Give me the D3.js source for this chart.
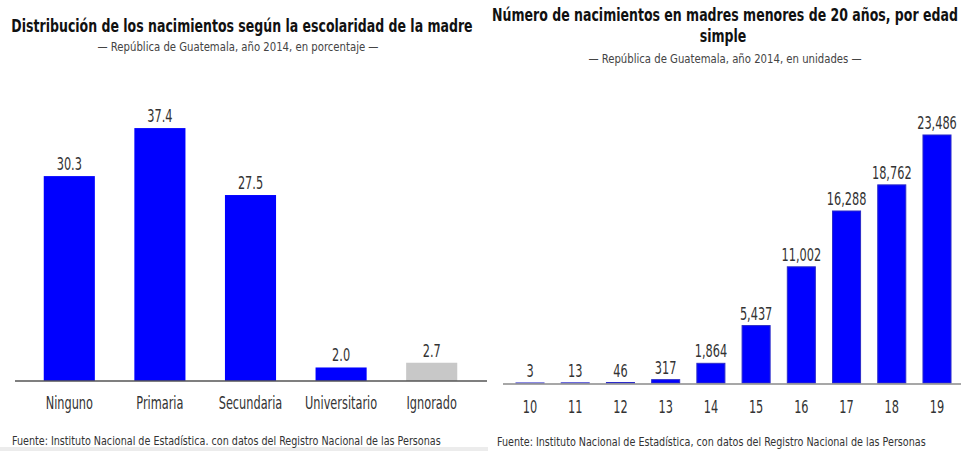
<!DOCTYPE html>
<html lang="es">
<head>
    <meta charset="UTF-8">
    <title>Nacimientos Guatemala 2014</title>
    <script src="https://d3js.org/d3.v7.min.js"></script>
    <style>
        body {
            margin: 0;
            background: #fff;
        }
        svg text {
            font-family: 'Liberation Sans Narrow', 'DejaVu Sans Condensed', sans-serif;
        }
        .title {
            font-size: 17px;
            font-weight: bold;
            fill: #111;
            text-anchor: middle;
        }
        .subtitle {
            font-size: 12.5px;
            fill: #444;
            text-anchor: middle;
        }
        .value, .tick-label {
            font-size: 17.5px;
            fill: #333;
            text-anchor: middle;
        }
        .source {
            font-size: 12px;
            fill: #333;
        }
    </style>
</head>
<body>
    <svg width="961" height="451"></svg>
    <script>
        // left chart: escolaridad de la madre (%)
        const schooling = ["Ninguno", "Primaria", "Secundaria", "Universitario", "Ignorado"];
        const schoolingPct = [30.3, 37.4, 27.5, 2.0, 2.7];

        // right chart: madres menores de 20 años
        const ages = ["10", "11", "12", "13", "14", "15", "16", "17", "18", "19"];
        const ageBirths = [3, 13, 46, 317, 1864, 5437, 11002, 16288, 18762, 23486];

        const svg = d3.select("svg");
        const blue = "#0000ff";
        const grey = "#c8c8c8";

        // squeeze text horizontally to mimic the condensed face of the original
        const squeeze = {title: 0.82, subtitle: 0.9, value: 0.72, source: 0.89};
        function placeText(sel, x, y, k) {
            sel.attr("transform", `translate(${x},${y}) scale(${k},1)`);
        }

        // bottom strip under left panel
        svg.append("rect")
            .attr("x", 0).attr("y", 447)
            .attr("width", 488).attr("height", 4)
            .attr("fill", "#ececec");

        // ---------- left panel ----------
        const xL = d3.scaleBand()
            .domain(schooling)
            .range([24, 477])
            .paddingInner(0.436)
            .paddingOuter(0.218);

        const yL = d3.scaleLinear()
            .domain([0, 40])
            .range([381, 110.5]);

        const left = svg.append("g");

        left.append("text").attr("class", "title")
            .text("Distribución de los nacimientos según la escolaridad de la madre")
            .call(placeText, 242, 32, squeeze.title);
        left.append("text").attr("class", "subtitle")
            .text("— República de Guatemala, año 2014, en porcentaje —")
            .call(placeText, 238, 51, squeeze.subtitle);

        left.selectAll(".bar")
            .data(schooling)
            .enter().append("rect")
            .attr("class", "bar")
            .attr("x", d => xL(d))
            .attr("width", xL.bandwidth())
            .attr("y", (d, i) => yL(schoolingPct[i]))
            .attr("height", (d, i) => yL(0) - yL(schoolingPct[i]))
            .attr("fill", d => d === "Ignorado" ? grey : blue);

        left.selectAll(".value")
            .data(schooling)
            .enter().append("text")
            .attr("class", "value")
            .text((d, i) => d3.format(".1f")(schoolingPct[i]))
            .each(function(d, i) {
                d3.select(this).call(placeText, xL(d) + xL.bandwidth() / 2, yL(schoolingPct[i]) - 6, squeeze.value);
            });

        left.append("line")
            .attr("x1", 15).attr("x2", 487)
            .attr("y1", yL(0)).attr("y2", yL(0))
            .attr("stroke", "#555").attr("stroke-width", 1.5);

        left.selectAll(".tick-label")
            .data(schooling)
            .enter().append("text")
            .attr("class", "tick-label")
            .text(d => d)
            .each(function(d) {
                d3.select(this).call(placeText, xL(d) + xL.bandwidth() / 2, 409, squeeze.value);
            });

        left.append("text").attr("class", "source")
            .text("Fuente: Instituto Nacional de Estadística. con datos del Registro Nacional de las Personas")
            .call(placeText, 12, 445, squeeze.source);

        // ---------- right panel ----------
        const xR = d3.scaleBand()
            .domain(ages)
            .range([507.4, 959.6])
            .paddingInner(0.38)
            .paddingOuter(0.19);

        const yR = d3.scaleLinear()
            .domain([0, 25000])
            .range([383, 119]);

        const right = svg.append("g");

        right.append("text").attr("class", "title")
            .text("Número de nacimientos en madres menores de 20 años, por edad")
            .call(placeText, 725, 21, squeeze.title);
        right.append("text").attr("class", "title")
            .text("simple")
            .call(placeText, 723, 42, squeeze.title);
        right.append("text").attr("class", "subtitle")
            .text("— República de Guatemala, año 2014, en unidades —")
            .call(placeText, 725, 63, squeeze.subtitle);

        right.selectAll(".bar")
            .data(ages)
            .enter().append("rect")
            .attr("class", "bar")
            .attr("x", d => xR(d))
            .attr("width", xR.bandwidth())
            .attr("y", (d, i) => yR(ageBirths[i]))
            .attr("height", (d, i) => yR(0) - yR(ageBirths[i]))
            .attr("fill", blue)
            .attr("stroke", "#2b2bc8")
            .attr("stroke-width", 1);

        right.selectAll(".value")
            .data(ages)
            .enter().append("text")
            .attr("class", "value")
            .text((d, i) => d3.format(",")(ageBirths[i]))
            .each(function(d, i) {
                d3.select(this).call(placeText, xR(d) + xR.bandwidth() / 2, yR(ageBirths[i]) - 6, squeeze.value);
            });

        right.append("line")
            .attr("x1", 503).attr("x2", 961)
            .attr("y1", yR(0) + 1).attr("y2", yR(0) + 1)
            .attr("stroke", "#8a8a8a").attr("stroke-width", 1.5);

        right.selectAll(".tick-label")
            .data(ages)
            .enter().append("text")
            .attr("class", "tick-label")
            .text(d => d)
            .each(function(d) {
                d3.select(this).call(placeText, xR(d) + xR.bandwidth() / 2, 413, squeeze.value);
            });

        right.append("text").attr("class", "source")
            .text("Fuente: Instituto Nacional de Estadística, con datos del Registro Nacional de las Personas")
            .call(placeText, 497, 446, squeeze.source);
    </script>
</body>
</html>
